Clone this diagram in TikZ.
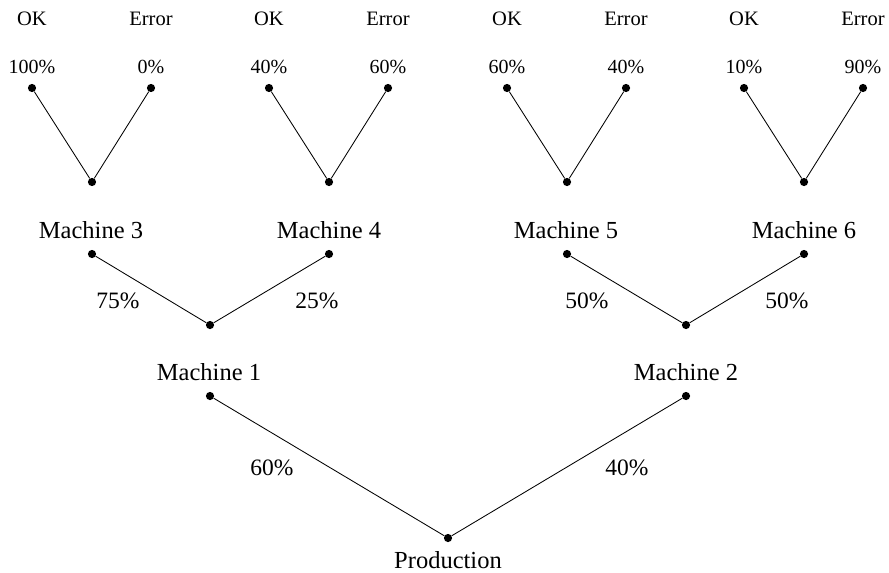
\documentclass[tikz,border=0pt]{standalone}
\usepackage{fontspec}
\setmainfont{Liberation Serif}
\newcommand{\pct}{$\%$}
\begin{document}
\begin{tikzpicture}[x=1pt,y=-1pt,
  dot/.style={circle,fill=black,inner sep=0pt,minimum size=8.2pt},
  edge/.style={line width=0.85pt},
  toplbl/.style={font=\fontsize{20.5}{24}\selectfont,anchor=base,inner sep=0pt},
  pctlbl/.style={font=\fontsize{20}{24}\selectfont,anchor=base,inner sep=0pt},
  mlbl/.style={font=\fontsize{24.5}{29}\selectfont,anchor=base,inner sep=0pt},
  elbl/.style={font=\fontsize{23.5}{28}\selectfont,anchor=base,inner sep=0pt}]
\useasboundingbox (0,0) rectangle (889,573);

% dots
\node[dot] (p) at (448,538) {};
\node[dot] (m1) at (210,396) {};
\node[dot] (m2) at (686,396) {};
\node[dot] (j1) at (210,325) {};
\node[dot] (j2) at (686,325) {};
\node[dot] (m3) at (92,254) {};
\node[dot] (m4) at (329,254) {};
\node[dot] (m5) at (567,254) {};
\node[dot] (m6) at (804,254) {};
\node[dot] (v3) at (92,182) {};
\node[dot] (v4) at (329,182) {};
\node[dot] (v5) at (567,182) {};
\node[dot] (v6) at (804,182) {};
\node[dot] (ok3) at (32,88) {};
\node[dot] (er3) at (151,88) {};
\node[dot] (ok4) at (269,88) {};
\node[dot] (er4) at (388,88) {};
\node[dot] (ok5) at (507,88) {};
\node[dot] (er5) at (626,88) {};
\node[dot] (ok6) at (744,88) {};
\node[dot] (er6) at (863,88) {};

% connectors
\draw[edge] (p) -- (m1);
\draw[edge] (p) -- (m2);
\draw[edge] (j1) -- (m3);
\draw[edge] (j1) -- (m4);
\draw[edge] (j2) -- (m5);
\draw[edge] (j2) -- (m6);
\draw[edge] (v3) -- (ok3);
\draw[edge] (v3) -- (er3);
\draw[edge] (v4) -- (ok4);
\draw[edge] (v4) -- (er4);
\draw[edge] (v5) -- (ok5);
\draw[edge] (v5) -- (er5);
\draw[edge] (v6) -- (ok6);
\draw[edge] (v6) -- (er6);

% machine labels
\node[mlbl] (tp) at (448,568) {Production};
\node[mlbl] (t1) at (209,380) {Machine 1};
\node[mlbl] (t2) at (686,380) {Machine 2};
\node[mlbl] (t3) at (91,238) {Machine 3};
\node[mlbl] (t4) at (329,238) {Machine 4};
\node[mlbl] (t5) at (566,238) {Machine 5};
\node[mlbl] (t6) at (804,238) {Machine 6};

% edge labels
\node[elbl] (e60) at (272,475) {60\pct};
\node[elbl] (e40) at (627,475) {40\pct};
\node[elbl] (e75) at (118,308) {75\pct};
\node[elbl] (e25) at (317,308) {25\pct};
\node[elbl] (e50a) at (587,308) {50\pct};
\node[elbl] (e50b) at (787,308) {50\pct};

% top labels
\node[toplbl] (k3) at (32,25) {OK};
\node[toplbl] (r3) at (151,25) {Error};
\node[toplbl] (k4) at (269,25) {OK};
\node[toplbl] (r4) at (388,25) {Error};
\node[toplbl] (k5) at (507,25) {OK};
\node[toplbl] (r5) at (626,25) {Error};
\node[toplbl] (k6) at (744,25) {OK};
\node[toplbl] (r6) at (863,25) {Error};

\node[pctlbl] (pk3) at (32,73) {100\pct};
\node[pctlbl] (pr3) at (151,73) {0\pct};
\node[pctlbl] (pk4) at (269,73) {40\pct};
\node[pctlbl] (pr4) at (388,73) {60\pct};
\node[pctlbl] (pk5) at (507,73) {60\pct};
\node[pctlbl] (pr5) at (626,73) {40\pct};
\node[pctlbl] (pk6) at (744,73) {10\pct};
\node[pctlbl] (pr6) at (863,73) {90\pct};
\end{tikzpicture}
\end{document}
